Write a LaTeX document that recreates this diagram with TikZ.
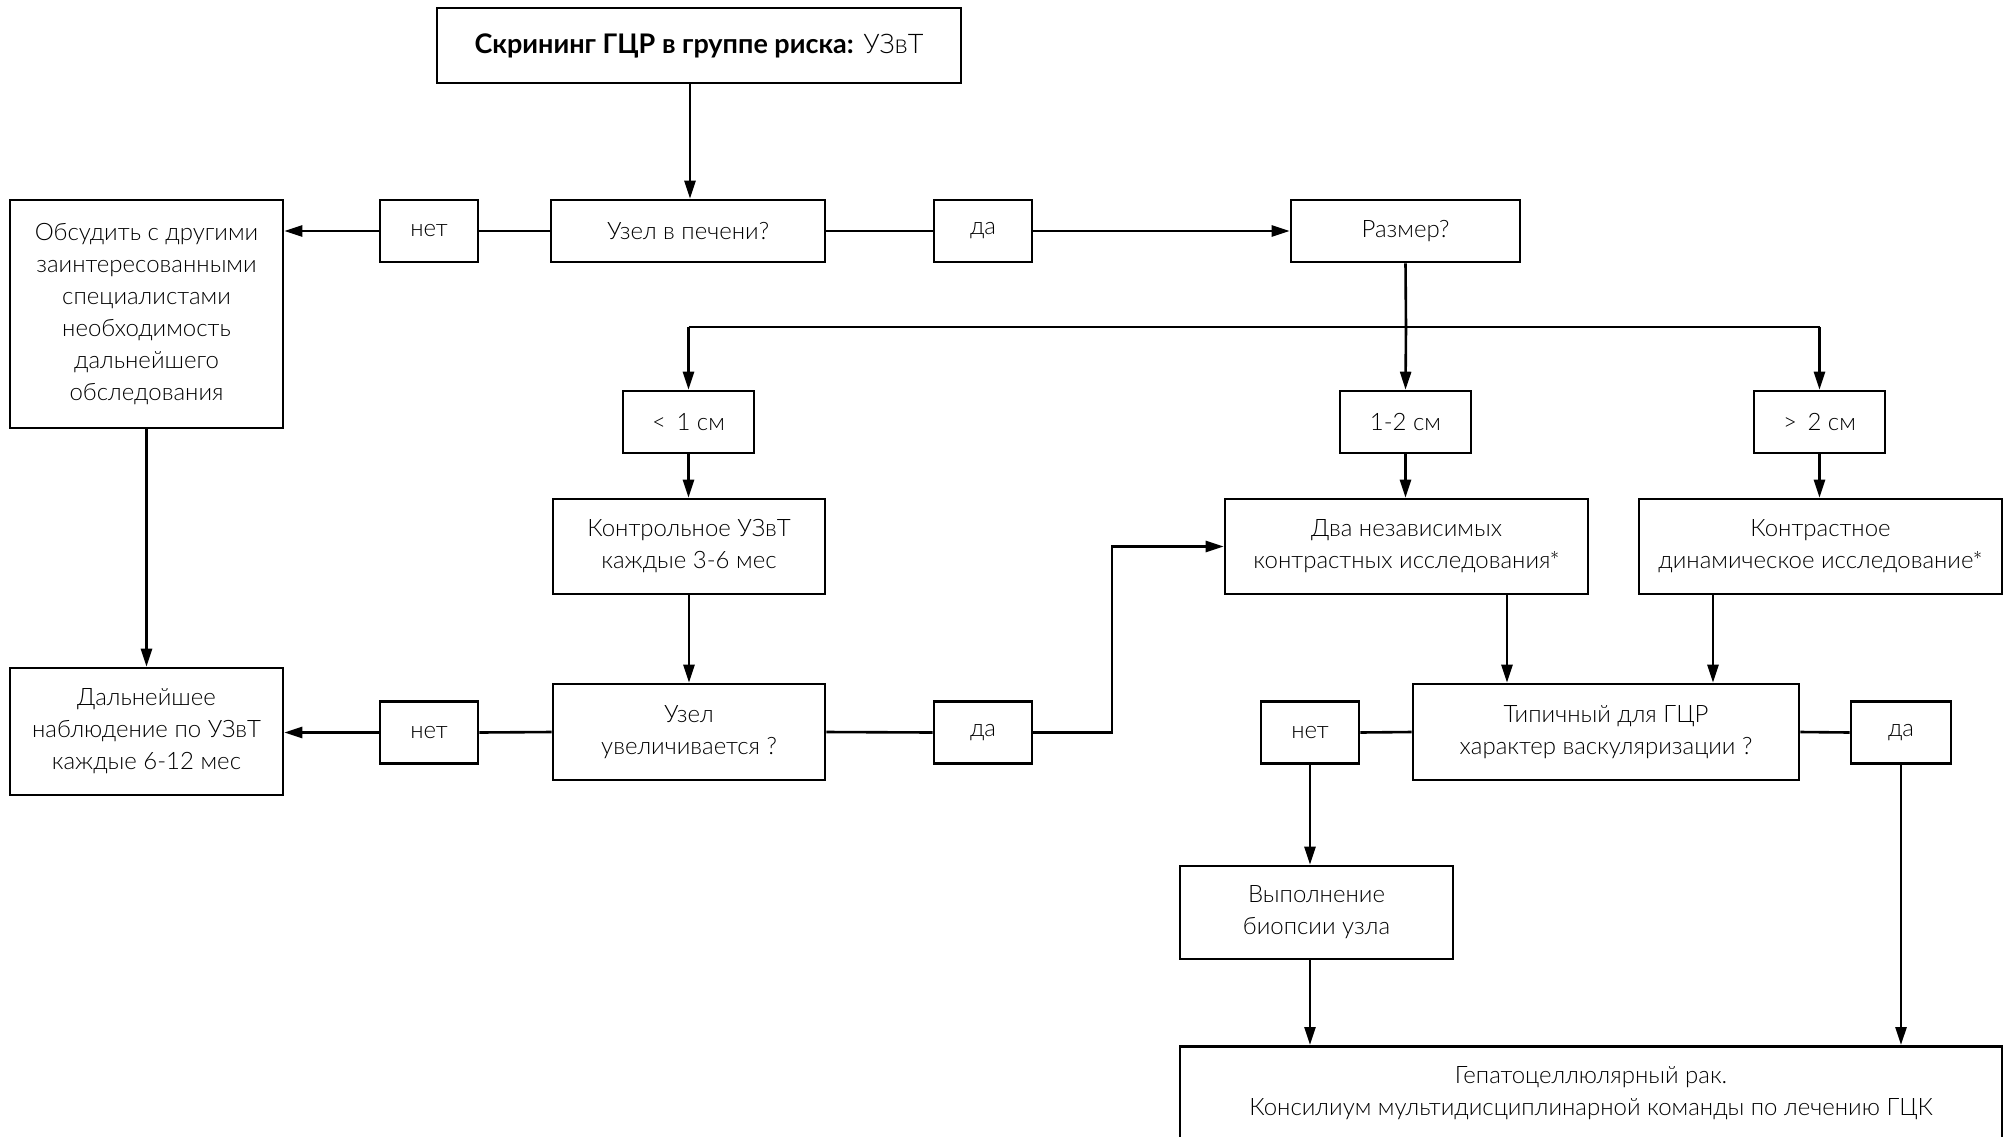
\documentclass[tikz,border=0pt]{standalone}
\usepackage{fontspec}
\setmainfont{Lato}[UprightFont=* Light, BoldFont=* Bold]
\usetikzlibrary{arrows.meta}
\begin{document}
\begin{tikzpicture}[x=1pt,y=-1pt,
  box/.style={draw,line width=2.6pt,rectangle,inner sep=0pt,align=center,
    font=\fontsize{24}{32}\selectfont},
  lbl/.style={box,minimum width=98pt,minimum height=62pt},
  conn/.style={line width=2.6pt},
  arr/.style={conn,-{Triangle[length=18pt,width=11pt]}}]
\useasboundingbox (0,0) rectangle (2011,1136);
\fill[white] (0,0) rectangle (2011,1136);
% boxes
\node[box,minimum width=524pt,minimum height=75pt,font=\fontsize{27}{32}\selectfont] (top) at (699,45.5)
  {\textbf{Скрининг ГЦР в группе риска:} УЗвТ};
\node[box,minimum width=274pt,minimum height=62pt] (uzel) at (688,231) {Узел в печени?};
\node[lbl] (net1) at (429,231) {нет};
\node[lbl] (da1) at (983,231) {да};
\node[box,minimum width=229pt,minimum height=62pt] (razmer) at (1405.5,231) {Размер?};
\node[box,minimum width=273pt,minimum height=228pt] (obs) at (146.5,314)
  {Обсудить с другими\\заинтересованными\\специалистами\\необходимость\\дальнейшего\\обследования};
\node[box,minimum width=131pt,minimum height=62pt] (lt1) at (688.5,422) {<\, 1 см};
\node[box,minimum width=131pt,minimum height=62pt] (m12) at (1405.5,422) {1-2 см};
\node[box,minimum width=131pt,minimum height=62pt] (gt2) at (1819.5,422) {>\, 2 см};
\node[box,minimum width=272pt,minimum height=95pt] (kontrol) at (689,546.5)
  {Контрольное УЗвТ\\каждые 3-6 мес};
\node[box,minimum width=363pt,minimum height=95pt] (dva) at (1406.5,546.5)
  {Два независимых\\контрастных исследования$^{*}$};
\node[box,minimum width=363pt,minimum height=95pt] (kontrast) at (1820.5,546.5)
  {Контрастное\\динамическое исследование$^{*}$};
\node[box,minimum width=272pt,minimum height=96pt] (uvel) at (689,732)
  {Узел\\увеличивается ?};
\node[box,minimum width=273pt,minimum height=127pt] (dalnei) at (146.5,731.5)
  {Дальнейшее\\наблюдение по УЗвТ\\каждые 6-12 мес};
\node[lbl] (net2) at (429,732.5) {нет};
\node[lbl] (da2) at (983,732.5) {да};
\node[box,minimum width=386pt,minimum height=96pt] (tip) at (1606,732)
  {Типичный для ГЦР\\характер васкуляризации ?};
\node[lbl] (net3) at (1310,732.5) {нет};
\node[lbl,minimum width=100pt] (da3) at (1901,732.5) {да};
\node[box,minimum width=273pt,minimum height=93pt] (vyp) at (1316.5,912.5)
  {Выполнение\\биопсии узла};
\node[box,minimum width=822pt,minimum height=200pt,anchor=north,text depth=0pt] (final) at (1591,1045) {};
\node[font=\fontsize{24}{32}\selectfont,align=center] (finaltext) at (1591,1093)
  {Гепатоцеллюлярный рак.\\Консилиум мультидисциплинарной команды по лечению ГЦК};
% connectors
\coordinate (branch) at (1406,327);
\draw[arr] (top.south -| uzel.north) ++(2,0) coordinate (t0) -- (t0 |- uzel.north);
\draw[conn] (uzel.west) -- (net1.east);
\draw[arr] (net1.west) -- (obs.east |- net1.west);
\draw[conn] (uzel.east) -- (da1.west);
\draw[arr] (da1.east) -- (razmer.west);
\draw[conn] (razmer.south) -- (branch);
\draw[conn] (branch -| lt1.north) -- (branch -| gt2.north);
\draw[arr] (branch -| lt1.north) -- (lt1.north);
\draw[arr] (branch) -- (m12.north);
\draw[arr] (branch -| gt2.north) -- (gt2.north);
\draw[arr] (lt1.south) -- (kontrol.north -| lt1.south);
\draw[arr] (m12.south) -- (dva.north -| m12.south);
\draw[arr] (gt2.south) -- (kontrast.north -| gt2.south);
\draw[arr] (kontrol.south) -- (uvel.north);
\draw[arr] (obs.south) -- (dalnei.north);
\draw[conn] (uvel.west) -- (net2.east);
\draw[arr] (net2.west) -- (dalnei.east |- net2.west);
\draw[conn] (uvel.east) -- (da2.west);
\coordinate (bend) at (1112,732.5);
\draw[arr] (da2.east) -- (bend) -- (bend |- dva.west) -- (dva.west);
\coordinate (d1) at (1507,0);
\coordinate (d2) at (1713,0);
\draw[arr] (dva.south -| d1) -- (tip.north -| d1);
\draw[arr] (kontrast.south -| d2) -- (tip.north -| d2);
\draw[conn] (tip.west) -- (net3.east);
\draw[conn] (tip.east) -- (da3.west);
\draw[arr] (net3.south) -- (vyp.north -| net3.south);
\draw[arr] (vyp.south -| net3.south) -- (final.north -| net3.south);
\draw[arr] (da3.south) -- (final.north -| da3.south);
\end{tikzpicture}
\end{document}
